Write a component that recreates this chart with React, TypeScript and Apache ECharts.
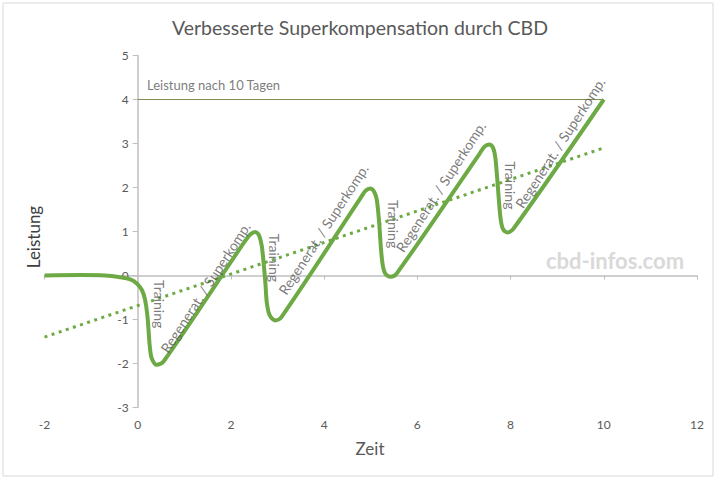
import React, { useEffect, useRef } from "react";
import * as echarts from "echarts";

// Performance curve, points (x = Zeit, y = Leistung)
const curvePoints: [number, number][] = [
  [-2, 0], [-1.2, 0.01], [-0.7, 0.0], [-0.38, -0.04], [-0.16, -0.09], [-0.02, -0.18],
  [0.09, -0.33], [0.16, -0.56], [0.21, -0.94], [0.235, -1.28], [0.26, -1.62], [0.3, -1.88],
  [0.41, -2.03], [0.55, -1.96],
  [2.3, 0.78], [2.42, 0.94], [2.52, 0.99], [2.6, 0.92], [2.66, 0.68],
  [2.7, 0.3], [2.74, -0.18], [2.77, -0.62], [2.83, -0.9], [2.95, -1.02], [3.08, -0.95],
  [4.78, 1.76], [4.89, 1.93], [4.99, 1.98], [5.07, 1.91], [5.13, 1.72],
  [5.18, 1.2], [5.22, 0.6], [5.26, 0.22], [5.32, 0.03], [5.43, -0.03], [5.56, 0.05],
  [7.33, 2.76], [7.44, 2.93], [7.54, 2.98], [7.62, 2.91], [7.67, 2.7],
  [7.71, 2.25], [7.75, 1.7], [7.79, 1.26], [7.84, 1.05], [7.93, 0.98], [8.06, 1.06],
  [10, 4],
];

// Linear trend line end points
const trendPoints: [number, number][] = [[-2, -1.4], [10, 2.9]];

// Reference level after 10 days
const levelPoints: [number, number][] = [[0, 4], [10, 4]];
const levelLabel = "Leistung nach 10 Tagen";

// Phase annotations (anchor in data coordinates)
const trainingAnchors: [number, number][] = [[0.46, -0.65], [2.93, 0.4], [5.48, 1.17], [7.99, 2.05]];
const regenAnchors: [number, number][] = [[1.45, -0.27], [3.98, 1.05], [6.5, 2.02], [9.06, 3.02]];
const trainingText = "Training";
const regenText = "Regenerat. / Superkomp.";
const levelLabelAnchor: [number, number] = [0.2, 4.33];

const xTicks = { min: -2, max: 12, interval: 2 };
const yTicks = { min: -3, max: 5, interval: 1 };

const title = "Verbesserte Superkompensation durch CBD";
const xName = "Zeit";
const yName = "Leistung";
const watermark = "cbd-infos.com";

const FONT = "Lato, 'Liberation Sans', sans-serif";
const TXT = "#595959";
const GREEN = "#6DAA45";

const GRID = { left: 44.5, right: 23, top: 55.5, bottom: 73.5 };
const WIDTH = 720;
const HEIGHT = 481;

export default function App() {
  const ref = useRef<HTMLDivElement>(null);
  useEffect(() => {
    if (!ref.current) return;
    const chart = echarts.init(ref.current, undefined, { renderer: "svg" });
    const labelStyle = { color: TXT, fontFamily: FONT, fontSize: 14 };
    const gridW = WIDTH - GRID.left - GRID.right;
    const yAxisShift = (gridW * (0 - xTicks.min)) / (xTicks.max - xTicks.min);
    chart.setOption({
      animation: false,
      backgroundColor: "#ffffff",
      textStyle: { fontFamily: FONT },
      title: {
        text: title,
        left: "center",
        top: 12,
        textStyle: { color: TXT, fontFamily: FONT, fontSize: 19.5, fontWeight: "normal" },
      },
      grid: { ...GRID, containLabel: false },
      xAxis: [
        {
          type: "value",
          min: xTicks.min,
          max: xTicks.max,
          interval: xTicks.interval,
          position: "bottom",
          axisLine: { show: false, onZero: false },
          axisTick: { show: false },
          splitLine: { show: false },
          axisLabel: { color: TXT, fontFamily: FONT, fontSize: 12, margin: 11 },
        },
        {
          type: "value",
          min: xTicks.min,
          max: xTicks.max,
          interval: xTicks.interval,
          position: "bottom",
          axisLine: { show: true, onZero: true, lineStyle: { color: "#BFBFBF", width: 1.5 } },
          axisTick: { show: true, length: 4, lineStyle: { color: "#BFBFBF" } },
          splitLine: { show: false },
          axisLabel: { show: false },
        },
      ],
      yAxis: {
        type: "value",
        min: yTicks.min,
        max: yTicks.max,
        interval: yTicks.interval,
        position: "left",
        offset: -yAxisShift,
        axisLine: { show: true, onZero: false, lineStyle: { color: "#BFBFBF", width: 1.5 } },
        axisTick: { show: true, length: 5, lineStyle: { color: "#BFBFBF" } },
        splitLine: { show: false },
        axisLabel: { color: TXT, fontFamily: FONT, fontSize: 12, margin: 9 },
      },
      graphic: [
        {
          type: "rect",
          shape: { x: 3, y: 3, width: 710, height: 473 },
          style: { fill: "none", stroke: "#D9D9D9", lineWidth: 1 },
          silent: true,
        },
        {
          type: "text",
          x: 370,
          y: 448,
          style: { text: xName, fill: TXT, font: `17px ${FONT}`, align: "center", verticalAlign: "middle" },
        },
        {
          type: "text",
          x: 33,
          y: 237,
          rotation: Math.PI / 2,
          style: { text: yName, fill: "#404040", font: `17px ${FONT}`, align: "center", verticalAlign: "middle" },
        },
        {
          type: "text",
          x: 615,
          y: 260,
          style: { text: watermark, fill: "#D9D9D9", font: `bold 22px ${FONT}`, align: "center", verticalAlign: "middle" },
        },
      ],
      series: [
        {
          type: "line",
          data: levelPoints,
          showSymbol: false,
          symbol: "none",
          lineStyle: { color: "#7F8F4F", width: 1.2 },
          z: 2,
        },
        {
          type: "line",
          data: trendPoints,
          showSymbol: false,
          symbol: "none",
          lineStyle: { color: GREEN, width: 3, type: [3, 4.5] },
          z: 3,
        },
        {
          type: "line",
          data: curvePoints,
          smooth: 0.3,
          showSymbol: false,
          symbol: "none",
          lineStyle: { color: GREEN, width: 4 },
          z: 4,
        },
        {
          type: "scatter",
          symbolSize: 0,
          silent: true,
          z: 5,
          data: [
            ...trainingAnchors.map((p) => ({
              value: p,
              label: { show: true, formatter: trainingText, rotate: -90, position: "inside", align: "center", verticalAlign: "middle", ...labelStyle },
            })),
            ...regenAnchors.map((p) => ({
              value: p,
              label: { show: true, formatter: regenText, rotate: 57, position: "inside", align: "center", verticalAlign: "middle", ...labelStyle },
            })),
            {
              value: levelLabelAnchor,
              label: { show: true, formatter: levelLabel, position: "inside", align: "left", verticalAlign: "middle", color: TXT, fontFamily: FONT, fontSize: 13 },
            },
          ],
        },
      ],
    });
    return () => chart.dispose();
  }, []);
  return <div ref={ref} style={{ position: "fixed", left: 0, top: 0, width: WIDTH, height: HEIGHT }} />;
}
